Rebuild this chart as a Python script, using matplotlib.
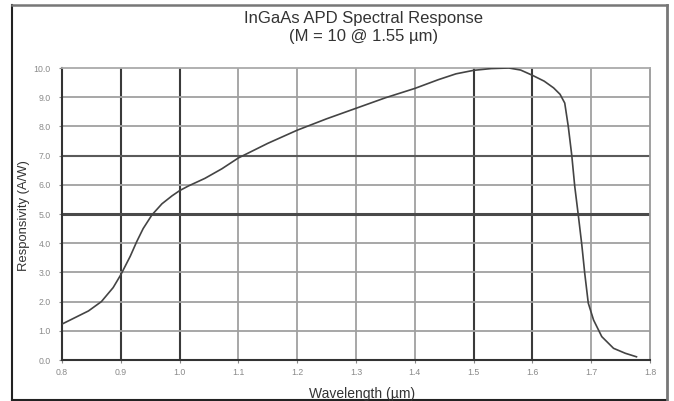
import matplotlib.pyplot as plt
from matplotlib.lines import Line2D

# --- dados ---
wavelength = [0.80, 0.82, 0.845, 0.867, 0.887, 0.90, 0.916, 0.927, 0.938, 0.953,
              0.97, 0.987, 1.00, 1.015, 1.043, 1.072, 1.10, 1.15, 1.20, 1.25,
              1.30, 1.35, 1.40, 1.44, 1.47, 1.50, 1.53, 1.56, 1.58, 1.60,
              1.62, 1.636, 1.647, 1.655, 1.661, 1.667, 1.672, 1.678, 1.684, 1.689,
              1.695, 1.704, 1.718, 1.738, 1.758, 1.777]
responsivity = [1.23, 1.43, 1.68, 2.0, 2.48, 2.92, 3.55, 4.05, 4.5, 4.97,
                5.35, 5.62, 5.80, 5.96, 6.22, 6.55, 6.92, 7.42, 7.87, 8.26,
                8.62, 8.98, 9.3, 9.6, 9.8, 9.92, 9.98, 10.0, 9.93, 9.75,
                9.55, 9.32, 9.1, 8.8, 8.0, 7.0, 5.95, 4.97, 3.95, 2.97,
                1.95, 1.37, 0.80, 0.40, 0.23, 0.11]

x_ticks = [0.8, 0.9, 1.0, 1.1, 1.2, 1.3, 1.4, 1.5, 1.6, 1.7, 1.8]
y_ticks = [0.0, 1.0, 2.0, 3.0, 4.0, 5.0, 6.0, 7.0, 8.0, 9.0, 10.0]
dark_x = [0.9, 1.0, 1.5, 1.6]
dark_y = [5.0, 7.0]

plt.rcParams['font.family'] = ['Liberation Sans', 'DejaVu Sans']

W, H = 674, 401
fig = plt.figure(figsize=(W / 100, H / 100), dpi=100)

# moldura externa (esquerda/baixo escuras, topo/direita cinza)
def fx(px):
    return px / W

def fy(py):
    return 1 - py / H

fig.lines.append(Line2D([fx(12), fx(12)], [fy(5), fy(399.5)], transform=fig.transFigure,
                        color='#222222', linewidth=1.5))
fig.lines.append(Line2D([fx(12), fx(667)], [fy(399.5), fy(399.5)], transform=fig.transFigure,
                        color='#222222', linewidth=1.5))
fig.lines.append(Line2D([fx(12), fx(667)], [fy(5), fy(5)], transform=fig.transFigure,
                        color='#777777', linewidth=1.8))
fig.lines.append(Line2D([fx(667), fx(667)], [fy(5), fy(399.5)], transform=fig.transFigure,
                        color='#777777', linewidth=2.0))

ax = fig.add_axes([fx(62), fy(360), (650 - 62) / W, (360 - 68) / H])

# grade
for v in x_ticks[1:-1]:
    if v in dark_x:
        ax.axvline(v, color='#3a3a3a', linewidth=1.5, zorder=1)
    else:
        ax.axvline(v, color='#a0a0a0', linewidth=1.3, zorder=1)
for v in y_ticks[1:-1]:
    if v == 5.0:
        ax.axhline(v, color='#4a4a4a', linewidth=2.2, zorder=1)
    elif v in dark_y:
        ax.axhline(v, color='#5a5a5a', linewidth=1.5, zorder=1)
    else:
        ax.axhline(v, color='#a0a0a0', linewidth=1.3, zorder=1)

ax.plot(wavelength, responsivity, color='#444444', linewidth=1.2, zorder=3)

ax.set_xlim(0.8, 1.8)
ax.set_ylim(0.0, 10.0)
ax.set_xticks(x_ticks)
ax.set_yticks(y_ticks)
ax.set_xticklabels([f'{v:.1f}' for v in x_ticks])
ax.set_yticklabels([f'{v:.1f}' for v in y_ticks])
ax.tick_params(labelsize=6.3, labelcolor='#8a8a8a', length=2, color='#888888')
ax.tick_params(axis='y', pad=6)
ax.tick_params(axis='x', pad=4)

ax.spines['left'].set_color('#333333')
ax.spines['bottom'].set_color('#333333')
ax.spines['left'].set_linewidth(1.5)
ax.spines['bottom'].set_linewidth(1.5)
ax.spines['top'].set_color('#aaaaaa')
ax.spines['right'].set_color('#999999')
ax.spines['top'].set_linewidth(1.3)
ax.spines['right'].set_linewidth(1.3)

fig.text(fx(364), fy(18), 'InGaAs APD Spectral Response', ha='center', va='center',
         fontsize=12, color='#333333')
fig.text(fx(364), fy(37), '(M = 10 @ 1.55 \u00b5m)', ha='center', va='center',
         fontsize=12, color='#333333')
fig.text(fx(24), fy(216), 'Responsivity (A/W)', rotation=90, ha='center', va='center',
         fontsize=9.4, color='#333333')
fig.text(fx(362), fy(394), 'Wavelength (\u00b5m)', ha='center', va='center',
         fontsize=10, color='#333333')

fig.savefig('out.png', dpi=100)
